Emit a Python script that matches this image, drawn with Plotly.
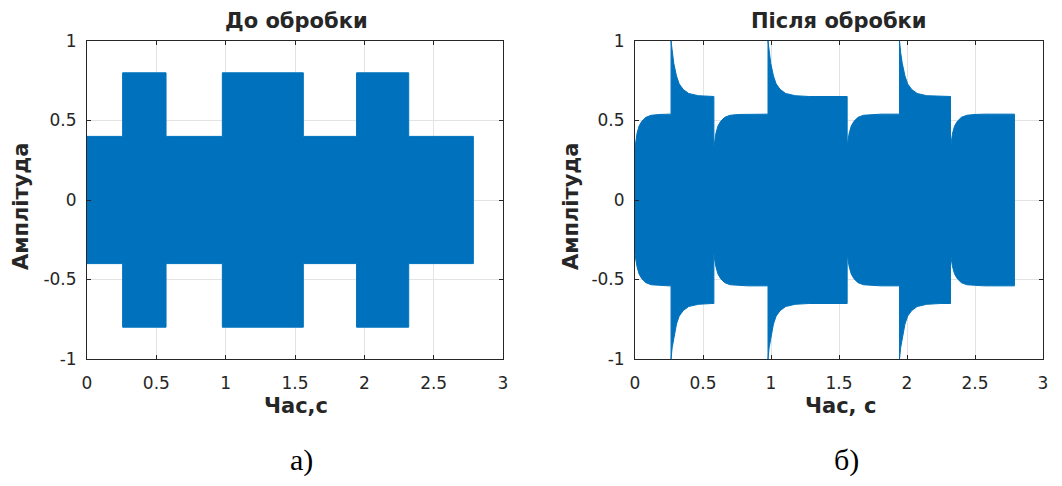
import plotly.graph_objects as go

# ---------------- data ----------------
# Left panel: "До обробки" – envelope of the signal, piecewise constant
before_edges = [0.0, 0.257, 0.57, 0.976, 1.56, 1.944, 2.32, 2.786]
before_levels = [0.4, 0.8, 0.4, 0.8, 0.4, 0.8, 0.4]

# Right panel: "Після обробки" – envelope with transients
after_edges = [0.0, 0.265, 0.58, 0.978, 1.56, 1.945, 2.32, 2.79]
after_kind = ["low", "high", "low", "high", "low", "high", "low"]

# transient envelope read at time offsets from a segment start
low_dt = [0.0, 0.005, 0.015, 0.03, 0.05, 0.08, 0.12, 0.18, 0.25]
low_amp = [0.33, 0.37, 0.42, 0.465, 0.495, 0.52, 0.533, 0.538, 0.54]
high_dt = [0.0, 0.008, 0.02, 0.04, 0.06, 0.09, 0.13, 0.2, 0.3]
high_amp = [1.0, 0.93, 0.86, 0.78, 0.73, 0.695, 0.67, 0.656, 0.651]

x_ticks = [0, 0.5, 1, 1.5, 2, 2.5, 3]
x_tick_text = ["0", "0.5", "1", "1.5", "2", "2.5", "3"]
y_ticks = [-1, -0.5, 0, 0.5, 1]
y_tick_text = ["-1", "-0.5", "0", "0.5", "1"]

BLUE = "#0072BD"
DARK = "#262626"
FONT = "DejaVu Sans, Liberation Sans, Arial, sans-serif"
SERIF = "Liberation Serif, Times New Roman, serif"

# ---------------- envelopes ----------------
def step_env(edges, levels):
    xs, ys = [], []
    for i, lv in enumerate(levels):
        xs += [edges[i], edges[i + 1]]
        ys += [lv, lv]
    return xs, ys


def transient_env(edges, kinds):
    xs, ys = [], []
    for i, k in enumerate(kinds):
        t0, t1 = edges[i], edges[i + 1]
        dts, amps = (low_dt, low_amp) if k == "low" else (high_dt, high_amp)
        last = amps[0]
        for dt, a in zip(dts, amps):
            if t0 + dt < t1:
                xs.append(t0 + dt)
                ys.append(a)
                last = a
        xs.append(t1)
        ys.append(last)
    return xs, ys


def polygon(xs, ys):
    px = xs + xs[::-1]
    py = ys + [-v for v in ys[::-1]]
    return px + [px[0]], py + [py[0]]


bx, by = polygon(*step_env(before_edges, before_levels))
ax_, ay_ = polygon(*transient_env(after_edges, after_kind))

fig = go.Figure()
fig.add_trace(go.Scatter(x=bx, y=by, fill="toself", fillcolor=BLUE,
                         line=dict(color=BLUE, width=1), mode="lines",
                         xaxis="x", yaxis="y", showlegend=False))
fig.add_trace(go.Scatter(x=ax_, y=ay_, fill="toself", fillcolor=BLUE,
                         line=dict(color=BLUE, width=1), mode="lines",
                         xaxis="x2", yaxis="y2", showlegend=False))

W, H = 1062, 486


def px_x(x):
    return x / W


def px_y(y):
    return 1 - y / H


ydom = [px_y(359), px_y(41)]
axis_common = dict(
    automargin=False,
    showgrid=True, gridcolor="#e3e3e3", gridwidth=1,
    showline=True, linecolor=DARK, linewidth=1, mirror="ticks",
    ticks="inside", ticklen=4, tickcolor=DARK, zeroline=False,
    tickfont=dict(family=FONT, size=17, color=DARK),
)
fig.update_layout(
    width=W, height=H, margin=dict(l=0, r=0, t=0, b=0, autoexpand=False),
    paper_bgcolor="white", plot_bgcolor="white",
    xaxis=dict(domain=[px_x(87), px_x(503)], range=[0, 3], tickvals=x_ticks,
               ticktext=x_tick_text, anchor="y", ticklabelstandoff=9, **axis_common),
    yaxis=dict(domain=ydom, range=[-1, 1], tickvals=y_ticks,
               ticktext=y_tick_text, anchor="x", ticklabelstandoff=6, **axis_common),
    xaxis2=dict(domain=[px_x(635), px_x(1043)], range=[0, 3], tickvals=x_ticks,
                ticktext=x_tick_text, anchor="y2", ticklabelstandoff=9, **axis_common),
    yaxis2=dict(domain=ydom, range=[-1, 1], tickvals=y_ticks,
                ticktext=y_tick_text, anchor="x2", ticklabelstandoff=6, **axis_common),
)


def ann(text, x, y, size, angle=0, family=FONT, color=DARK):
    fig.add_annotation(text=text, x=px_x(x), y=px_y(y), xref="paper", yref="paper",
                       showarrow=False, textangle=angle, xanchor="center", yanchor="middle",
                       font=dict(family=family, size=size, color=color))


ann("<b>До обробки</b>", 296, 21, 21)
ann("<b>Після обробки</b>", 839, 21, 21)
ann("<b>Амплітуда</b>", 21, 206, 21, angle=-90)
ann("<b>Амплітуда</b>", 571, 206, 21, angle=-90)
ann("<b>Час,с</b>", 296, 406, 21)
ann("<b>Час, с</b>", 840, 406, 21)
ann("а)", 301, 460, 30, family=SERIF, color="black")
ann("б)", 846, 460, 30, family=SERIF, color="black")

fig.write_html("out.html")
